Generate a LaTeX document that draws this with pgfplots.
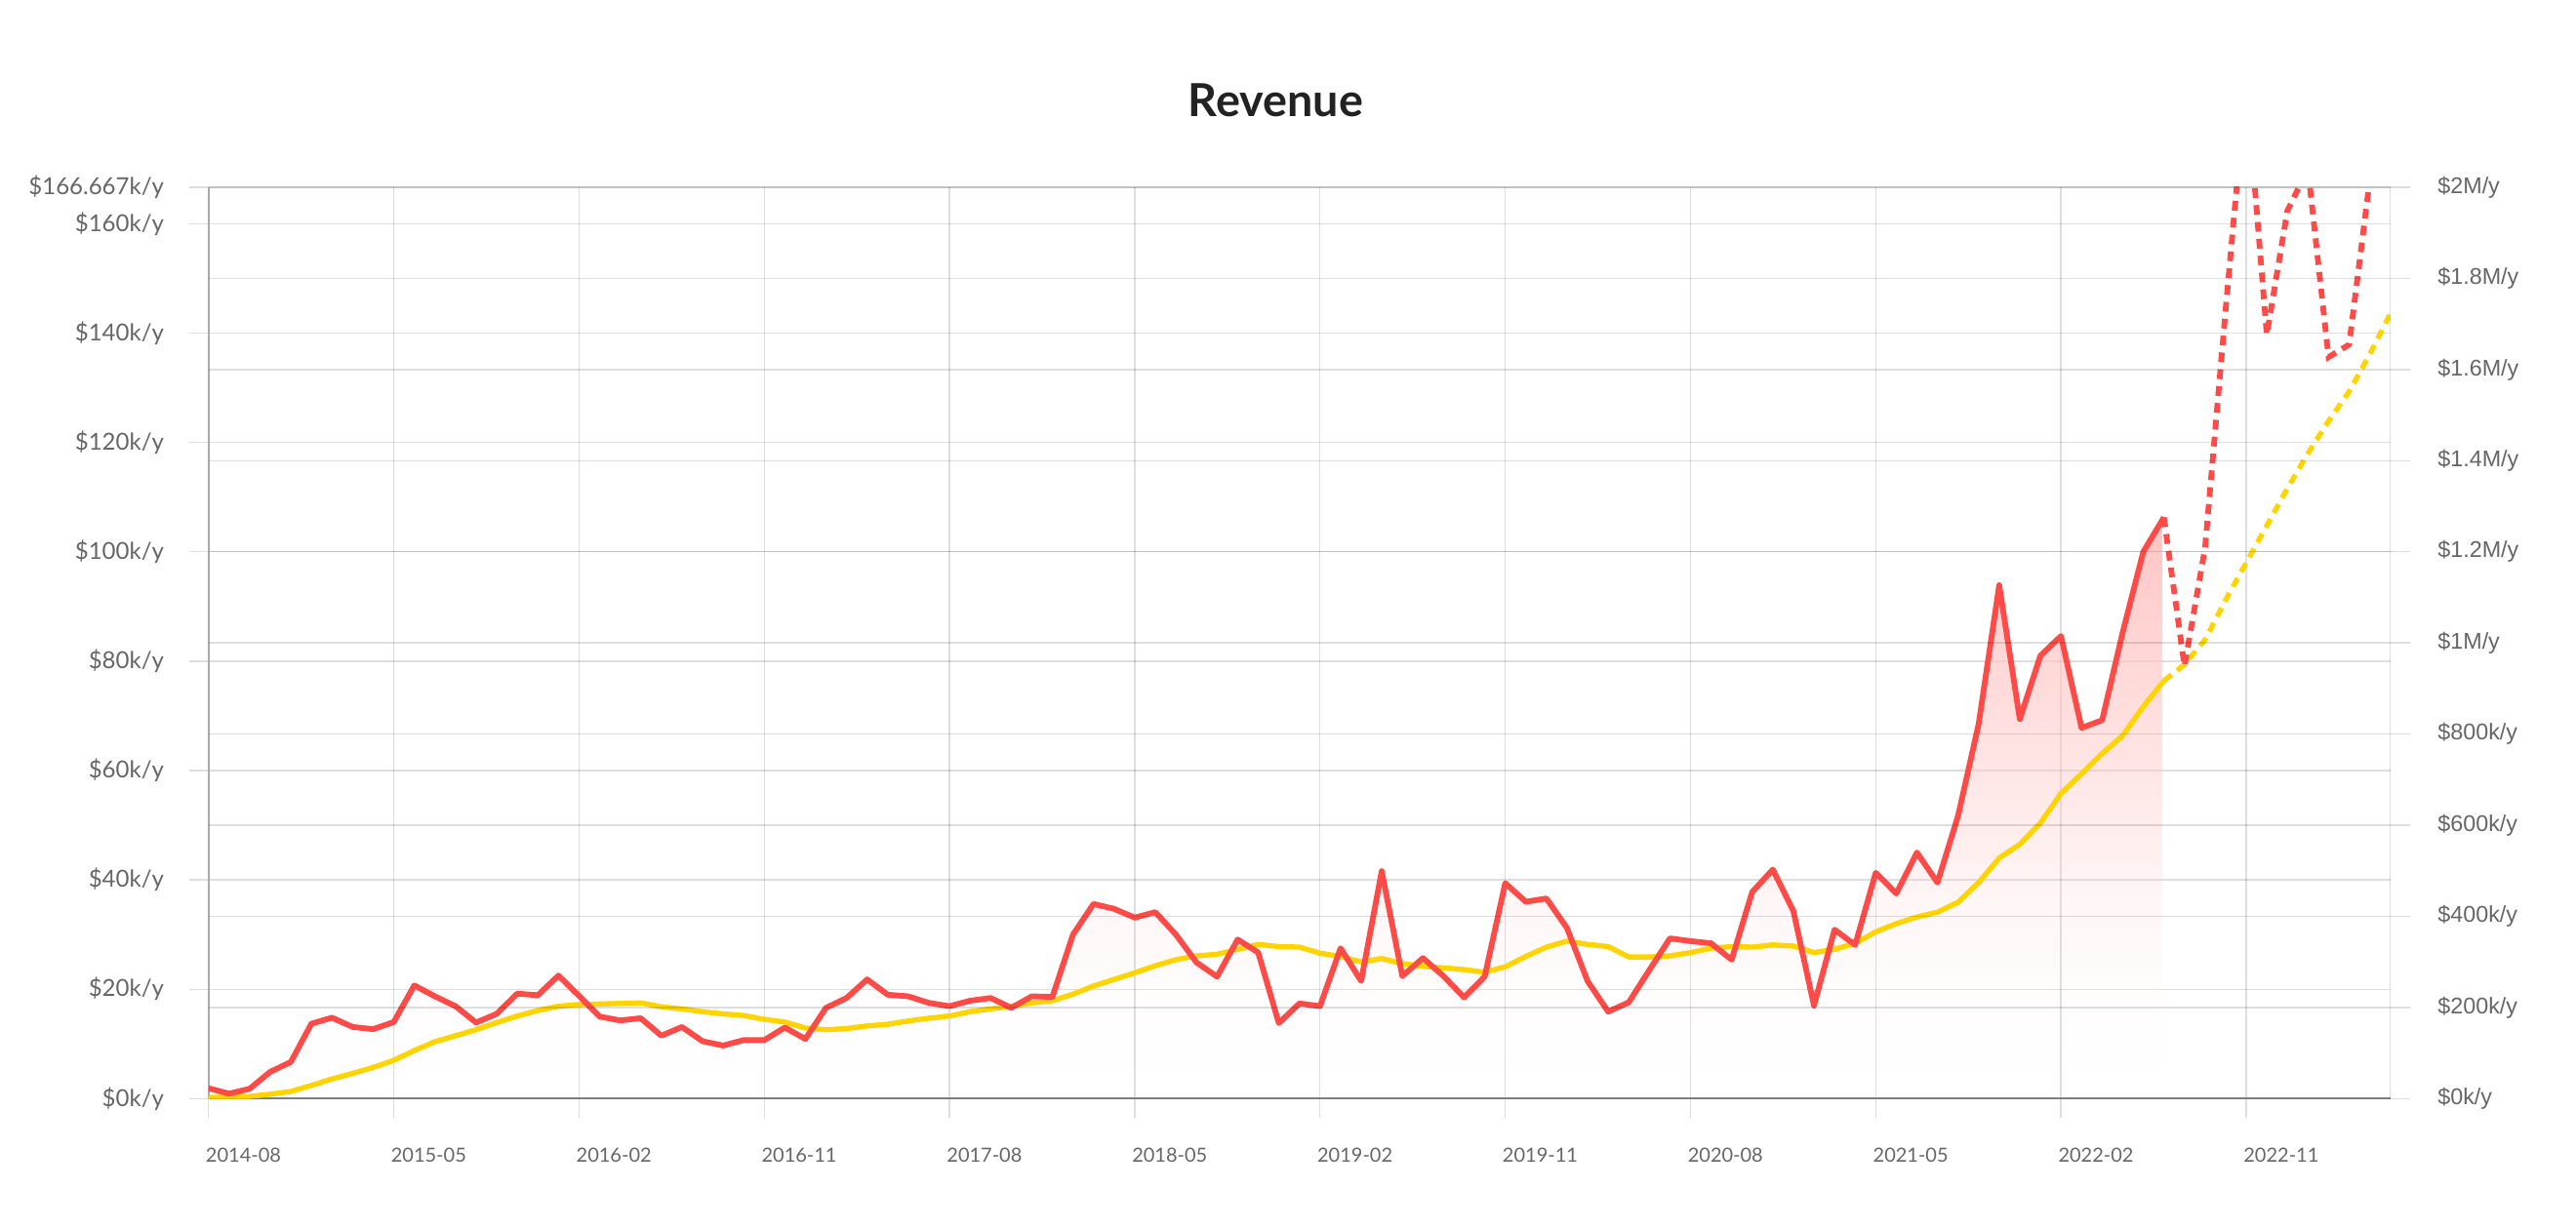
\documentclass[border=0pt]{standalone}
\usepackage{fontspec}
\usepackage{pgfplots}
\usepackage{pgfplotstable}
\pgfplotsset{compat=1.18}
\usetikzlibrary{fadings}
\setmainfont{Lato}
\newfontfamily\rfont{Liberation Sans}
\definecolor{lred}{HTML}{FF4B47}
\definecolor{lyel}{HTML}{FFD400}
\definecolor{tgray}{HTML}{666666}
\definecolor{ttl}{HTML}{222222}
\definecolor{axg}{HTML}{888888}
\definecolor{ayg}{HTML}{AAAAAA}

\pgfdeclareverticalshading{redfadeshade}{100bp}{color(0bp)=(pgftransparent!100); color(25bp)=(pgftransparent!100); color(33bp)=(pgftransparent!97); color(42bp)=(pgftransparent!85); color(75bp)=(pgftransparent!0); color(100bp)=(pgftransparent!0)}
\pgfdeclarefading{redfade}{\pgfuseshading{redfadeshade}}

\pgfplotstableread{
m v
0 1.9
1 0.9
2 1.8
3 4.9
4 6.7
5 13.7
6 14.8
7 13.1
8 12.7
9 14.0
10 20.7
11 18.7
12 16.9
13 13.9
14 15.5
15 19.2
16 18.9
17 22.5
18 18.8
19 15.0
20 14.3
21 14.7
22 11.5
23 13.1
24 10.5
25 9.7
26 10.7
27 10.7
28 13.0
29 10.9
30 16.6
31 18.4
32 21.8
33 19.0
34 18.7
35 17.5
36 16.9
37 17.9
38 18.4
39 16.6
40 18.7
41 18.6
42 30.0
43 35.6
44 34.7
45 33.1
46 34.1
47 30.0
48 24.9
49 22.3
50 29.1
51 26.7
52 13.8
53 17.4
54 16.9
55 27.5
56 21.5
57 41.6
58 22.4
59 25.7
60 22.4
61 18.5
62 22.3
63 39.4
64 36.0
65 36.6
66 31.2
67 21.5
68 15.9
69 17.6
70 23.5
71 29.3
72 28.8
73 28.4
74 25.4
75 37.8
76 41.9
77 34.3
78 17.0
79 30.9
80 28.1
81 41.3
82 37.5
83 45.0
84 39.5
85 51.7
86 68.5
87 93.9
88 69.4
89 81.0
90 84.6
91 67.8
92 69.2
93 85.3
94 100.0
95 106.3
}\redsolid

\pgfplotstableread{
m v
95 106.3
96 79.1
97 100.7
98 144.3
99 186
100 139.7
101 162.4
102 170
103 135.6
104 137.9
105 168
106 200
}\reddot

\pgfplotstableread{
m v
0 0.2
1 0.3
2 0.4
3 0.8
4 1.3
5 2.4
6 3.6
7 4.6
8 5.7
9 7.0
10 8.8
11 10.4
12 11.5
13 12.6
14 13.9
15 15.1
16 16.1
17 16.9
18 17.2
19 17.3
20 17.4
21 17.5
22 16.8
23 16.4
24 15.9
25 15.5
26 15.2
27 14.5
28 14.0
29 12.9
30 12.6
31 12.8
32 13.3
33 13.6
34 14.2
35 14.7
36 15.1
37 15.9
38 16.4
39 16.9
40 17.5
41 17.9
42 19.1
43 20.6
44 21.8
45 23.0
46 24.3
47 25.4
48 26.1
49 26.4
50 27.3
51 28.2
52 27.8
53 27.7
54 26.6
55 26.0
56 25.0
57 25.6
58 24.7
59 24.2
60 23.9
61 23.6
62 23.1
63 24.1
64 26.0
65 27.7
66 28.8
67 28.2
68 27.8
69 25.9
70 25.9
71 26.1
72 26.7
73 27.5
74 27.8
75 27.7
76 28.1
77 27.9
78 26.7
79 27.3
80 28.4
81 30.5
82 32.0
83 33.2
84 34.1
85 35.9
86 39.5
87 44.0
88 46.5
89 50.4
90 55.8
91 59.4
92 63.1
93 66.4
94 71.7
95 76.4
}\yelsolid

\pgfplotstableread{
m v
95 76.4
96 79.4
97 83.9
98 91.2
99 98.0
100 104.8
101 111.6
102 118.0
103 123.9
104 129.3
105 136.1
106 143.5
}\yeldot

\begin{document}
\begin{tikzpicture}
\path[use as bounding box] (-64.1pt,-39.5pt) rectangle (727.9pt,337.9pt);
\begin{axis}[
  at={(0pt,0pt)}, anchor=south west,
  scale only axis, width=670.8pt, height=280.3pt,
  xmin=0, xmax=106, ymin=0, ymax=166.667,
  axis x line*=bottom, axis y line*=left,
  x axis line style={-, draw=axg, line width=0.6pt},
  y axis line style={-, draw=ayg, line width=0.6pt},
  xtick={0,9,18,27,36,45,54,63,72,81,90,99},
  xticklabels={2014-08,2015-05,2016-02,2016-11,2017-08,2018-05,2019-02,2019-11,2020-08,2021-05,2022-02,2022-11},
  ytick={0,20,40,60,80,100,120,140,160,166.667},
  yticklabels={\$0k/y,\$20k/y,\$40k/y,\$60k/y,\$80k/y,\$100k/y,\$120k/y,\$140k/y,\$160k/y,\$166.667k/y},
  grid=major,
  major grid style={draw=black, opacity=0.13, line width=0.42pt},
  tick align=outside, major tick length=6pt,
  major tick style={draw=black, opacity=0.13, line width=0.42pt},
  xticklabel style={font=\fontsize{6}{7}\selectfont, text=tgray, anchor=west, inner sep=0pt, xshift=-1pt, yshift=-11.4pt},
  yticklabel style={font=\fontsize{7.2}{8}\selectfont, text=tgray, anchor=east, inner sep=0pt, xshift=-7.5pt},
  clip=true,
]
\addplot[draw=none, fill=lred!32!white, path fading=redfade] table[x=m,y=v]{\redsolid} \closedcycle;
\addplot[lyel, line width=1.6pt, line join=round, mark=none] table[x=m,y=v]{\yelsolid};
\addplot[lyel, line width=1.6pt, mark=none, dash pattern=on 3pt off 2.2pt] table[x=m,y=v]{\yeldot};
\addplot[lred, line width=1.75pt, line join=round, mark=none] table[x=m,y=v]{\redsolid};
\addplot[lred, line width=1.75pt, mark=none, dash pattern=on 3pt off 2.2pt] table[x=m,y=v]{\reddot};
\end{axis}
\begin{axis}[
  at={(0pt,0pt)}, anchor=south west,
  scale only axis, width=670.8pt, height=280.3pt,
  xmin=0, xmax=106, ymin=0, ymax=2000,
  axis x line=none, axis y line*=right,
  y axis line style={-, draw=black, opacity=0.13, line width=0.42pt},
  ytick={0,200,400,600,800,1000,1200,1400,1600,1800,2000},
  yticklabels={\$0k/y,\$200k/y,\$400k/y,\$600k/y,\$800k/y,\$1M/y,\$1.2M/y,\$1.4M/y,\$1.6M/y,\$1.8M/y,\$2M/y},
  ymajorgrids,
  major grid style={draw=black, opacity=0.13, line width=0.42pt},
  tick align=outside, major tick length=6pt,
  major tick style={draw=black, opacity=0.13, line width=0.42pt},
  yticklabel style={font=\rfont\fontsize{7}{8}\selectfont, text=tgray, anchor=west, inner sep=0pt, xshift=8.4pt},
]
\end{axis}
\node[font=\bfseries\fontsize{14}{16}\selectfont, text=ttl] at (328.1pt,307pt) {Revenue};
\end{tikzpicture}
\end{document}
